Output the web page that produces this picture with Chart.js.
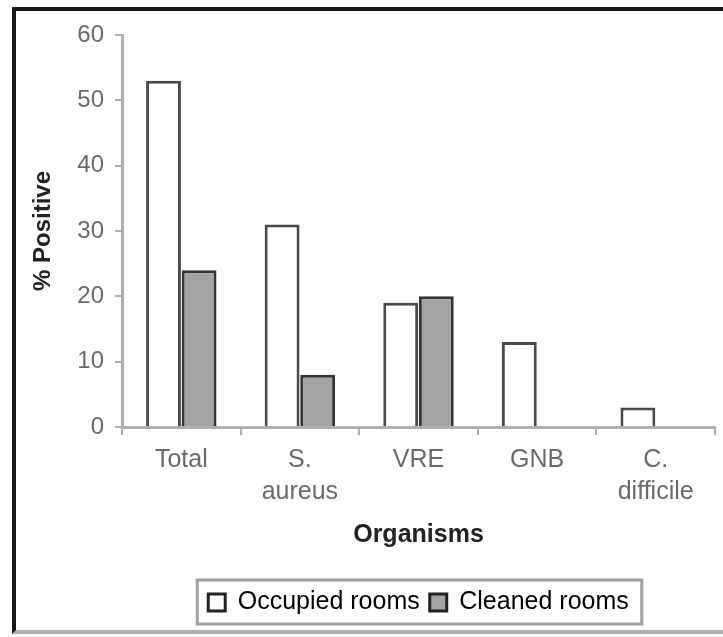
<!DOCTYPE html>
<html>
<head>
<meta charset="utf-8">
<script src="https://cdn.jsdelivr.net/npm/chart.js@4"></script>
<style>
  body { margin: 0; background: #fff; }
  #wrap { position: relative; width: 723px; height: 637px; }
  #frame {
    position: absolute; left: 12px; top: 7px; width: 720px; height: 627px;
    border-left: 4px solid #1a1a1a; border-top: 4px solid #1a1a1a;
    border-bottom: 4px solid #b0b0b0; box-sizing: border-box;
  }
  canvas { position: absolute; left: 0; top: 0; }
</style>
</head>
<body>
<div id="wrap">
  <div id="frame"></div>
  <canvas id="organism-chart" width="723" height="637"></canvas>
</div>
<script>
const organisms = ['Total', ['S.', 'aureus'], 'VRE', 'GNB', ['C.', 'difficile']];
const occupiedRooms = [53, 31, 19, 13, 3];
const cleanedRooms = [24, 8, 20, 0, 0];

const textGray = '#6a6a6a';
const axisGray = '#b0b0b0';
const fontName = 'Liberation Sans';

// draws the box round the legend items
const legendBox = {
    id: 'legendBox',
    afterDraw(chart) {
        const boxes = chart.legend.legendHitBoxes;
        if (!boxes || !boxes.length) return;
        const first = boxes[0];
        const last = boxes[boxes.length - 1];
        const ctx = chart.ctx;
        ctx.save();
        ctx.strokeStyle = '#a0a0a0';
        ctx.lineWidth = 3;
        ctx.strokeRect(first.left - 11, first.top - 10, last.left + last.width - first.left + 24, first.height + 19);
        ctx.restore();
    }
};

const organismChart = new Chart(document.querySelector('#organism-chart').getContext('2d'), {
    type: 'bar',
    data: {
        labels: organisms,
        datasets: [
            {
                label: 'Occupied rooms',
                data: occupiedRooms,
                backgroundColor: '#ffffff',
                borderColor: '#4a4a4a',
                borderWidth: 3,
                borderSkipped: 'bottom'
            },
            {
                label: 'Cleaned rooms',
                data: cleanedRooms,
                backgroundColor: '#a3a3a3',
                borderColor: '#333333',
                borderWidth: 3,
                borderSkipped: 'bottom'
            }
        ]
    },
    options: {
        responsive: false,
        animation: false,
        layout: { padding: { top: 35, right: 8, left: 0, bottom: 12 } },
        datasets: { bar: { categoryPercentage: 0.6, barPercentage: 0.98 } },
        plugins: {
            tooltip: { enabled: false },
            legend: {
                position: 'bottom',
                fullSize: false,
                labels: {
                    color: '#444',
                    font: { family: fontName, size: 25 },
                    boxWidth: 17,
                    boxHeight: 17,
                    padding: 10,
                    generateLabels(chart) {
                        return chart.data.datasets.map((ds, i) => ({
                            text: ds.label,
                            fillStyle: ds.backgroundColor,
                            strokeStyle: '#222',
                            lineWidth: 3,
                            datasetIndex: i
                        }));
                    }
                }
            }
        },
        scales: {
            y: {
                min: 0,
                max: 60,
                ticks: {
                    stepSize: 10,
                    color: textGray,
                    padding: 11,
                    font: { family: fontName, size: 24 }
                },
                grid: { drawOnChartArea: false, tickLength: 7, color: axisGray, lineWidth: 2 },
                border: { color: axisGray, width: 3 },
                title: {
                    display: true,
                    text: '% Positive',
                    color: '#222',
                    font: { family: fontName, size: 24, weight: 'bold' },
                    padding: { top: 29, bottom: 0 }
                },
                afterFit(scale) { scale.width = 122; }
            },
            x: {
                ticks: {
                    color: textGray,
                    padding: 9,
                    font: { family: fontName, size: 25, lineHeight: 1.28 }
                },
                grid: { drawOnChartArea: false, tickLength: 8, color: axisGray, lineWidth: 2 },
                border: { color: axisGray, width: 3 },
                title: {
                    display: true,
                    text: 'Organisms',
                    color: '#222',
                    font: { family: fontName, size: 25, weight: 'bold' },
                    padding: { top: 0, bottom: 30 }
                },
                afterFit(scale) { scale.height = 153; }
            }
        }
    },
    plugins: [legendBox]
});
</script>
</body>
</html>
